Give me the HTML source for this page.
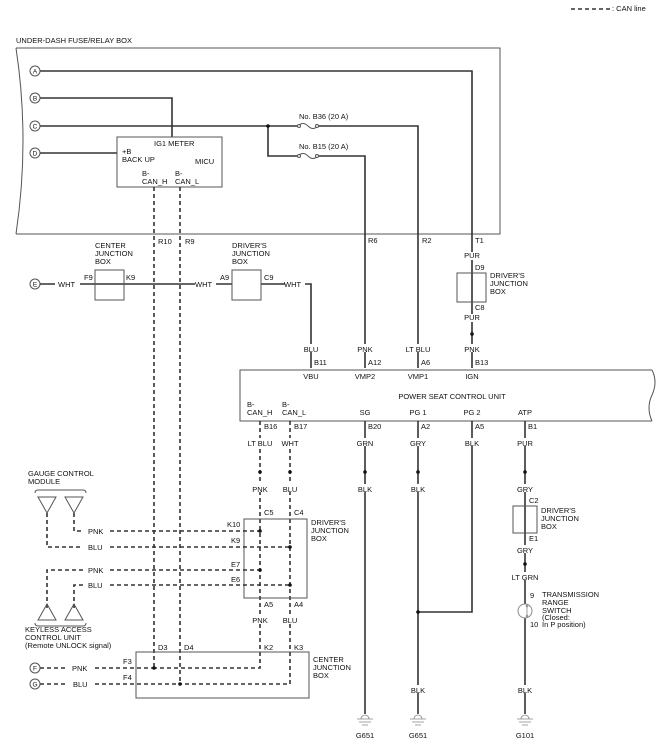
<!DOCTYPE html>
<html><head><meta charset="utf-8"><style>
html,body{margin:0;padding:0;background:#fff;}
svg{display:block;}
text{font-family:"Liberation Sans",Arial,sans-serif;font-size:7.5px;fill:#111;}
.w{stroke:#333;stroke-width:1.6;fill:none;}
.d{stroke:#333;stroke-width:1.6;fill:none;stroke-dasharray:4,3;}
.b{stroke:#555;stroke-width:1;fill:none;}
.bg{fill:#fff;}
.m{text-anchor:middle;}
</style></head><body>
<svg width="658" height="756" viewBox="0 0 658 756" xmlns="http://www.w3.org/2000/svg">
<!-- legend -->
<line x1="571" y1="9" x2="610" y2="9" class="d" stroke-dasharray="5,2"/>
<text x="612" y="11">: CAN line</text>

<text x="16" y="43">UNDER-DASH FUSE/RELAY BOX</text>
<!-- fuse box outline -->
<path d="M16 48 H500 V234 H16" class="b"/>
<path d="M16 48 Q30 140 16 234" class="b"/>

<!-- A -->
<path d="M40 71 H472 V368" class="w"/>
<!-- B -->
<path d="M40 98 H172 V138" class="w"/>
<!-- C -->
<path d="M40 126 H298 M318 126 H418 V368" class="w"/>
<path d="M268 126 V156 H298 M318 156 H365 V368" class="w"/>
<circle cx="268" cy="126" r="1.8" fill="#111"/>
<path d="M298 126 q5 -5 10 0 q5 5 10 0" class="b"/>
<path d="M298 156 q5 -5 10 0 q5 5 10 0" class="b"/>
<circle cx="299" cy="126" r="1.5" class="b bg"/><circle cx="317" cy="126" r="1.5" class="b bg"/>
<circle cx="299" cy="156" r="1.5" class="b bg"/><circle cx="317" cy="156" r="1.5" class="b bg"/>
<text x="299" y="119">No. B36 (20 A)</text>
<text x="299" y="149">No. B15 (20 A)</text>
<!-- D -->
<path d="M40 153 H117" class="w"/>
<g class="b bg">
<circle cx="35" cy="71" r="5"/><circle cx="35" cy="98" r="5"/><circle cx="35" cy="126" r="5"/><circle cx="35" cy="153" r="5"/>
<circle cx="35" cy="284" r="5"/><circle cx="35" cy="668" r="5"/><circle cx="35" cy="684" r="5"/>
</g>
<g font-size="6.5">
<text x="35" y="73.5" class="m" style="font-size:6.5px">A</text>
<text x="35" y="100.5" class="m" style="font-size:6.5px">B</text>
<text x="35" y="128.5" class="m" style="font-size:6.5px">C</text>
<text x="35" y="155.5" class="m" style="font-size:6.5px">D</text>
<text x="35" y="286.5" class="m" style="font-size:6.5px">E</text>
<text x="35" y="670.5" class="m" style="font-size:6.5px">F</text>
<text x="35" y="686.5" class="m" style="font-size:6.5px">G</text>
</g>
<!-- meter -->
<rect x="117" y="137" width="105" height="50" class="b bg"/>
<text x="154" y="146">IG1 METER</text>
<text x="122" y="154">+B</text><text x="122" y="162">BACK UP</text>
<text x="195" y="164">MICU</text>
<text x="142" y="176">B-</text><text x="142" y="184">CAN_H</text>
<text x="175" y="176">B-</text><text x="175" y="184">CAN_L</text>

<!-- CAN lines from meter -->
<path d="M154 187 V668" class="d"/>
<path d="M180 187 V684" class="d"/>
<text x="158" y="244">R10</text><text x="185" y="244">R9</text>

<!-- WHT line -->
<path d="M40 284 H55 M80 284 H195 M216 284 H232 M261 284 H285 M305 284 H311 V368" class="w"/>
<text x="58" y="287">WHT</text>
<text x="195" y="287">WHT</text>
<text x="284" y="287">WHT</text>
<rect x="95" y="270" width="29" height="30" class="b"/>
<rect x="232" y="270" width="29" height="30" class="b"/>
<text x="84" y="280">F9</text><text x="126" y="280">K9</text>
<text x="220" y="280">A9</text><text x="264" y="280">C9</text>
<text x="95" y="248">CENTER</text><text x="95" y="256">JUNCTION</text><text x="95" y="264">BOX</text>
<text x="232" y="248">DRIVER'S</text><text x="232" y="256">JUNCTION</text><text x="232" y="264">BOX</text>

<text x="368" y="243">R6</text><text x="422" y="243">R2</text><text x="475" y="243">T1</text>
<!-- right JB top -->
<rect x="457" y="273" width="29" height="29" class="b"/>
<rect x="466" y="252" width="12" height="8" fill="#fff"/>
<text x="472" y="258" class="m">PUR</text>
<text x="475" y="270">D9</text>
<text x="490" y="278">DRIVER'S</text><text x="490" y="286">JUNCTION</text><text x="490" y="294">BOX</text>
<text x="475" y="310">C8</text>
<rect x="466" y="314" width="12" height="8" fill="#fff"/>
<text x="472" y="320" class="m">PUR</text>
<circle cx="472" cy="334" r="1.8" fill="#111"/>
<!-- top wire labels -->
<g>
<rect x="302" y="344" width="18" height="8" fill="#fff"/><text x="311" y="352" class="m">BLU</text>
<rect x="356" y="344" width="18" height="8" fill="#fff"/><text x="365" y="352" class="m">PNK</text>
<rect x="405" y="344" width="26" height="8" fill="#fff"/><text x="418" y="352" class="m">LT BLU</text>
<rect x="463" y="344" width="18" height="8" fill="#fff"/><text x="472" y="352" class="m">PNK</text>
</g>
<text x="314" y="365">B11</text><text x="368" y="365">A12</text><text x="421" y="365">A6</text><text x="475" y="365">B13</text>

<!-- power seat control unit -->
<path d="M652 370 H240 V421 H652" class="b"/>
<path d="M652 370 q6 12 0 25 q-6 13 0 26" class="b"/>
<text x="311" y="379" class="m">VBU</text><text x="365" y="379" class="m">VMP2</text>
<text x="418" y="379" class="m">VMP1</text><text x="472" y="379" class="m">IGN</text>
<text x="452" y="399" class="m">POWER SEAT CONTROL UNIT</text>
<text x="247" y="407">B-</text><text x="247" y="415">CAN_H</text>
<text x="282" y="407">B-</text><text x="282" y="415">CAN_L</text>
<text x="365" y="415" class="m">SG</text><text x="418" y="415" class="m">PG 1</text>
<text x="472" y="415" class="m">PG 2</text><text x="525" y="415" class="m">ATP</text>
<text x="264" y="429">B16</text><text x="294" y="429">B17</text><text x="368" y="429">B20</text>
<text x="421" y="429">A2</text><text x="475" y="429">A5</text><text x="528" y="429">B1</text>

<!-- bottom wires -->
<path d="M260 421 V668 H154" class="d"/>
<path d="M290 421 V684 H180" class="d"/>
<path d="M365 421 V714" class="w"/>
<path d="M418 421 V714" class="w"/>
<path d="M472 421 V612 H418" class="w"/>
<circle cx="418" cy="612" r="1.8" fill="#111"/>
<path d="M525 421 V714" class="w"/>

<g>
<rect x="248" y="438" width="24" height="8" fill="#fff"/><text x="260" y="446" class="m">LT BLU</text>
<rect x="281" y="438" width="18" height="8" fill="#fff"/><text x="290" y="446" class="m">WHT</text>
<rect x="356" y="438" width="18" height="8" fill="#fff"/><text x="365" y="446" class="m">GRN</text>
<rect x="409" y="438" width="18" height="8" fill="#fff"/><text x="418" y="446" class="m">GRY</text>
<rect x="463" y="438" width="18" height="8" fill="#fff"/><text x="472" y="446" class="m">BLK</text>
<rect x="516" y="438" width="18" height="8" fill="#fff"/><text x="525" y="446" class="m">PUR</text>
</g>
<g fill="#111">
<circle cx="260" cy="472" r="1.8"/><circle cx="290" cy="472" r="1.8"/><circle cx="365" cy="472" r="1.8"/>
<circle cx="418" cy="472" r="1.8"/><circle cx="525" cy="472" r="1.8"/>
</g>
<g>
<rect x="251" y="484" width="18" height="8" fill="#fff"/><text x="260" y="492" class="m">PNK</text>
<rect x="281" y="484" width="18" height="8" fill="#fff"/><text x="290" y="492" class="m">BLU</text>
<rect x="356" y="484" width="18" height="8" fill="#fff"/><text x="365" y="492" class="m">BLK</text>
<rect x="409" y="484" width="18" height="8" fill="#fff"/><text x="418" y="492" class="m">BLK</text>
<rect x="516" y="484" width="18" height="8" fill="#fff"/><text x="525" y="492" class="m">GRY</text>
</g>

<!-- driver's JB middle -->
<rect x="244" y="519" width="63" height="79" class="b"/>
<text x="264" y="515">C5</text><text x="294" y="515">C4</text>
<text x="311" y="525">DRIVER'S</text><text x="311" y="533">JUNCTION</text><text x="311" y="541">BOX</text>
<text x="227" y="527">K10</text><text x="231" y="543">K9</text>
<text x="231" y="567">E7</text><text x="231" y="582">E6</text>
<text x="264" y="607">A5</text><text x="294" y="607">A4</text>
<rect x="251" y="615" width="18" height="8" fill="#fff"/><text x="260" y="623" class="m">PNK</text>
<rect x="281" y="615" width="18" height="8" fill="#fff"/><text x="290" y="623" class="m">BLU</text>
<text x="264" y="650">K2</text><text x="294" y="650">K3</text>

<!-- gauge/keyless dashed -->
<path d="M74 513 V531 H83 M110 531 H260" class="d"/>
<path d="M47 513 V547 H83 M110 547 H290" class="d"/>
<path d="M47 608 V570 H83 M110 570 H260" class="d"/>
<path d="M74 608 V585 H83 M110 585 H290" class="d"/>
<g fill="#111">
<circle cx="260" cy="531" r="1.8"/><circle cx="290" cy="547" r="1.8"/>
<circle cx="260" cy="570" r="1.8"/><circle cx="290" cy="585" r="1.8"/>
</g>
<text x="88" y="534">PNK</text><text x="88" y="550">BLU</text>
<text x="88" y="573">PNK</text><text x="88" y="588">BLU</text>
<text x="28" y="476">GAUGE CONTROL</text><text x="28" y="484">MODULE</text>
<path d="M35 493 q0 -3 3 -3 H83 q3 0 3 3" class="b"/>
<path d="M38 497 H56 L47 513 Z M65 497 H83 L74 513 Z" class="b"/>
<path d="M38 620 H56 L47 604 Z M65 620 H83 L74 604 Z" class="b"/>
<path d="M35 623 q0 3 3 3 H83 q3 0 3 -3" class="b" stroke="#ccc"/>
<text x="25" y="632">KEYLESS ACCESS</text><text x="25" y="640">CONTROL UNIT</text><text x="25" y="648">(Remote UNLOCK signal)</text>

<!-- center JB bottom -->
<rect x="136" y="652" width="173" height="46" class="b"/>
<text x="158" y="650">D3</text><text x="184" y="650">D4</text>
<text x="313" y="662">CENTER</text><text x="313" y="670">JUNCTION</text><text x="313" y="678">BOX</text>
<path d="M40 668 H68 M95 668 H154" class="d"/>
<path d="M40 684 H68 M95 684 H180" class="d"/>
<text x="72" y="671">PNK</text><text x="73" y="687">BLU</text>
<text x="123" y="664">F3</text><text x="123" y="680">F4</text>
<circle cx="154" cy="668" r="1.8" fill="#111"/><circle cx="180" cy="684" r="1.8" fill="#111"/>

<!-- right column lower -->
<rect x="513" y="506" width="24" height="27" class="b"/>
<text x="529" y="503">C2</text><text x="529" y="541">E1</text>
<text x="541" y="513">DRIVER'S</text><text x="541" y="521">JUNCTION</text><text x="541" y="529">BOX</text>
<rect x="516" y="545" width="18" height="8" fill="#fff"/><text x="525" y="553" class="m">GRY</text>
<circle cx="525" cy="564" r="1.8" fill="#111"/>
<rect x="511" y="572" width="28" height="8" fill="#fff"/><text x="525" y="580" class="m">LT GRN</text>
<circle cx="525" cy="611" r="7" fill="#fff" stroke="#888" stroke-width="1"/>
<path d="M527 605 V617" stroke="#888" stroke-width="0.8"/>
<circle cx="527" cy="606" r="1" fill="none" stroke="#888" stroke-width="0.6"/>
<circle cx="527" cy="616" r="1" fill="none" stroke="#888" stroke-width="0.6"/>
<text x="530" y="598">9</text><text x="530" y="627">10</text>
<text x="542" y="597">TRANSMISSION</text><text x="542" y="605">RANGE</text><text x="542" y="613">SWITCH</text>
<text x="542" y="620">(Closed:</text><text x="542" y="627">In P position)</text>

<g>
<rect x="409" y="685" width="18" height="8" fill="#fff"/><text x="418" y="693" class="m">BLK</text>
<rect x="516" y="685" width="18" height="8" fill="#fff"/><text x="525" y="693" class="m">BLK</text>
</g>
<!-- grounds -->
<g stroke="#888" stroke-width="0.8" fill="#fff">
<path d="M361 719 a4 4 0 0 1 8 0"/><path d="M357 719 H373 M359 722 H371 M362 725 H368"/>
<path d="M414 719 a4 4 0 0 1 8 0"/><path d="M410 719 H426 M412 722 H424 M415 725 H421"/>
<path d="M521 719 a4 4 0 0 1 8 0"/><path d="M517 719 H533 M519 722 H531 M522 725 H528"/>
</g>
<text x="365" y="738" class="m">G651</text><text x="418" y="738" class="m">G651</text><text x="525" y="738" class="m">G101</text>
</svg>
</body></html>
